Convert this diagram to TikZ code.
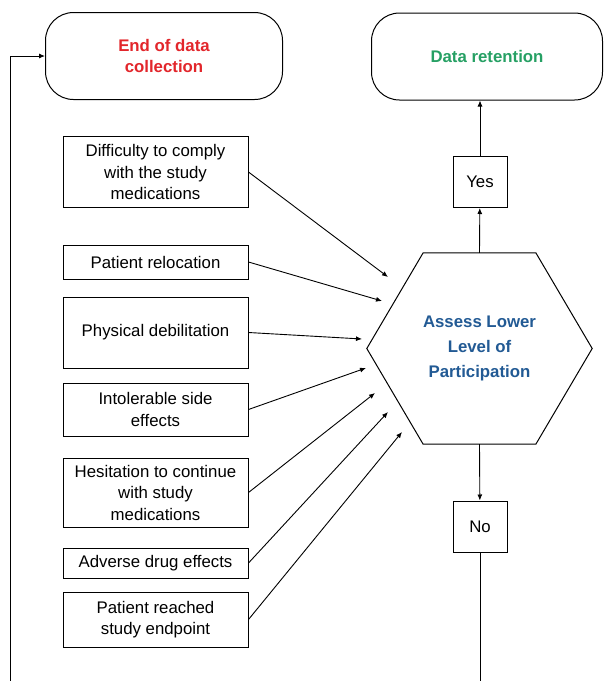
\documentclass[tikz,border=0pt]{standalone}
\usepackage{fontspec}
\setmainfont{Liberation Sans}
\usetikzlibrary{arrows.meta, positioning, calc}
\definecolor{endred}{RGB}{226,38,43}
\definecolor{keepgreen}{RGB}{38,160,100}
\definecolor{assessblue}{RGB}{34,90,148}

\begin{document}
\begin{tikzpicture}[x=1pt, y=-1pt,
    every node/.style={font=\fontsize{16.8}{21.5}\selectfont, align=center, inner sep=0pt},
    reason/.style={draw, line width=1pt, minimum width=185pt},
    outcome/.style={draw, line width=1pt, rounded corners=28pt, minimum height=87pt, font=\fontsize{16.8}{21.5}\selectfont\bfseries},
    answer/.style={draw, line width=1pt, minimum width=54pt, minimum height=51pt},
    link/.style={line width=0.9pt, -{Latex[length=6pt, width=5pt]}}]
    \useasboundingbox (0,0) rectangle (604,681);

    % Outcomes
    \node[outcome, minimum width=237pt, text=endred] (stop) at (164,56) {End of data\\collection};
    \node[outcome, minimum width=231pt, text=keepgreen] (keep) at (487,56.5) {Data retention};

    % Reasons
    \node[reason, minimum height=71pt] (comply) at (155.5,172) {Difficulty to comply\\with the study\\medications};
    \node[reason, minimum height=34pt] (relocate) at (155.5,262) {Patient relocation};
    \node[reason, minimum height=71pt] (debil) at (155.5,332.5) {Physical debilitation};
    \node[reason, minimum height=53pt] (intol) at (155.5,409.5) {Intolerable side\\effects};
    \node[reason, minimum height=69pt] (hesit) at (155.5,492.5) {Hesitation to continue\\with study\\medications};
    \node[reason, minimum height=30pt] (adverse) at (155.5,563) {Adverse drug effects};
    \node[reason, minimum height=55pt] (endpoint) at (155.5,619.5) {Patient reached\\study endpoint};

    % Assessment (hexagon)
    \node[minimum width=225pt, minimum height=191pt, text=assessblue,
          font=\fontsize{16.8}{25}\selectfont\bfseries] (assess) at (479.5,348.5) {Assess Lower\\Level of\\Participation};
    \draw[line width=1pt] (assess.west) -- ($(assess.north west)!0.25!(assess.north east)$)
        -- ($(assess.north west)!0.75!(assess.north east)$) -- (assess.east)
        -- ($(assess.south west)!0.75!(assess.south east)$)
        -- ($(assess.south west)!0.25!(assess.south east)$) -- cycle;

    % Answers
    \node[answer] (yes) at (480,182) {Yes};
    \node[answer] (no) at (480,526.5) {No};

    % Arrow ends
    \coordinate (in1) at (388,277);
    \coordinate (in2) at (382,301);
    \coordinate (in3) at (362,339);
    \coordinate (in4) at (366,368);
    \coordinate (in5) at (375,393);
    \coordinate (in6) at (388,412);
    \coordinate (in7) at (402,432);
    \coordinate (loopright) at (480,681);
    \coordinate (loopleft) at (10,681);

    % Arrows
    \draw[link] (comply.east) -- (in1);
    \draw[link] (relocate.east) -- (in2);
    \draw[link] (debil.east) -- (in3);
    \draw[link] (intol.east) -- (in4);
    \draw[link] (hesit.east) -- (in5);
    \draw[link] (adverse.east) -- (in6);
    \draw[link] (endpoint.east) -- (in7);
    \draw[link] (assess.north) -- (yes);
    \draw[link] (yes.north) -- (yes.north |- keep.south);
    \draw[link] (assess.south) -- (no);
    \draw[line width=0.9pt] (no) -- (loopright);
    \draw[link] (loopleft) |- (stop.west);
\end{tikzpicture}
\end{document}
